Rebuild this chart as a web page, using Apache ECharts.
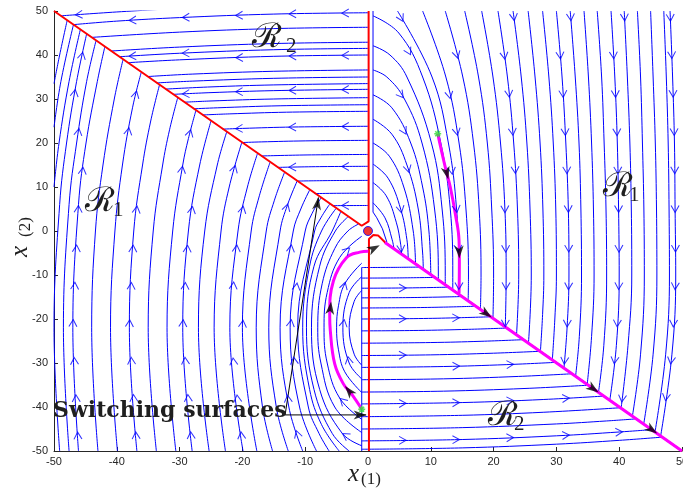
<!DOCTYPE html>
<html>
<head>
<meta charset="utf-8">
<script src="https://cdn.jsdelivr.net/npm/echarts/dist/echarts.min.js"></script>
<style>
  html, body { margin: 0; padding: 0; background: #ffffff; }
  #chart { width: 683px; height: 489px; }
</style>
</head>
<body>
<div id="chart"></div>
<script>
// Phase portrait of a switched planar system: streamlines of each mode,
// the two switching surfaces and two sample trajectories.

const axisTicks = [-50, -40, -30, -20, -10, 0, 10, 20, 30, 40, 50];

// Mode R2, upper-left wedge: flow runs left towards the switching line
const upperR2 = [
  [[-30, 50.62], [-40, 49.78], [-48.9, 48.9]],
  [[0, 49.6], [-15, 49.3], [-30, 48.5], [-40, 47.7], [-46.9, 46.9]],
  [[0, 46.3], [-15, 46.0], [-30, 45.2], [-44, 44]],
  [[0, 42.9], [-15, 42.6], [-30, 41.8], [-40.9, 40.9]],
  [[0, 41.5], [-15, 41.2], [-30, 40.4], [-39.6, 39.6]],
  [[0, 40.0], [-15, 39.7], [-30, 38.9], [-38.25, 38.25]],
  [[0, 36.6], [-15, 36.3], [-28, 35.66], [-35.1, 35.1]],
  [[0, 35.0], [-15, 34.7], [-28, 34.06], [-33.65, 33.65]],
  [[0, 33.5], [-15, 33.2], [-25, 32.75], [-32.25, 32.25]],
  [[0, 32.2], [-15, 31.9], [-25, 31.45], [-31.05, 31.05]],
  [[0, 30.3], [-15, 30.0], [-25, 29.55], [-29.27, 29.27]],
  [[0, 28.7], [-14, 28.46], [-24, 28.0], [-27.77, 27.77]],
  [[0, 27.2], [-13, 27.0], [-22, 26.62], [-26.37, 26.37]],
  [[0, 23.8], [-12, 23.63], [-20, 23.32], [-23.15, 23.15]],
  [[0, 20.6], [-10, 20.48], [-17, 20.25], [-20.1, 20.1]],
  [[0, 17.4], [-9, 17.3], [-14, 17.16], [-17.05, 17.05]],
  [[0, 14.7], [-7, 14.64], [-12, 14.53], [-14.45, 14.45]],
  [[0, 11.5], [-6, 11.46], [-11.35, 11.35]],
  [[0, 8.6], [-5, 8.57], [-8.5, 8.5]],
  [[0, 5.8], [-5.76, 5.76]]
];

// Mode R2, lower-right wedge: flow runs right towards the switching line
const lowerR2 = [
  [[-1, -49.6], [15, -49.29], [30, -48.45], [40, -47.58], [46.85, -46.85]],
  [[-1, -47.7], [15, -47.39], [30, -46.55], [40, -45.68], [45.15, -45.15]],
  [[-1, -45.0], [15, -44.69], [30, -43.85], [38, -43.17], [42.7, -42.7]],
  [[-1, -42.2], [15, -41.89], [28, -41.19], [40.17, -40.17]],
  [[-1, -39.3], [15, -38.99], [28, -38.29], [37.52, -37.52]],
  [[-1, -36.6], [12, -36.4], [25, -35.79], [35.05, -35.05]],
  [[-1, -33.8], [12, -33.6], [24, -33.05], [32.45, -32.45]],
  [[-1, -31.0], [12, -30.8], [22, -30.37], [29.86, -29.86]],
  [[-1, -28.3], [10, -28.15], [20, -27.77], [27.34, -27.34]],
  [[-1, -25.5], [10, -25.35], [18, -25.07], [24.7, -24.7]],
  [[-1, -22.7], [8, -22.6], [16, -22.35], [22.06, -22.06]],
  [[-1, -20.0], [8, -19.9], [14, -19.73], [19.5, -19.5]],
  [[-1, -17.5], [7, -17.42], [12, -17.3], [17.1, -17.1]],
  [[-1, -15.2], [6, -15.14], [11, -15.03], [14.9, -14.9]],
  [[-1, -13.0], [6, -12.94], [12.77, -12.77]],
  [[-1, -10.7], [5, -10.66], [10.54, -10.54]],
  [[-1, -8.3], [4, -8.27], [8.2, -8.2]]
];

// Mode R1, left half: flow turns clockwise and climbs to the switching line
const leftR1 = [
  [[-50, 33.5], [-49.1, 40], [-47.9, 47.9]],
  [[-50, 23.6], [-48.9, 34], [-46.9, 46.9]],
  [[-50, 10], [-49.2, 20], [-47.6, 34], [-45.8, 45.8]],
  [[-49.1, -50], [-50, -22], [-49.1, 6], [-48, 20], [-46.4, 34], [-44.8, 44.8]],
  [[-47.6, -50], [-48.5, -22], [-47.6, 6], [-46.4, 20], [-44.8, 34], [-43.3, 43.3]],
  [[-46.1, -50], [-47, -22], [-46.1, 6], [-44.9, 20], [-43.1, 34], [-41.9, 41.9]],
  [[-43, -50], [-44, -22], [-43.4, 0], [-42.2, 15], [-40.4, 30], [-39, 39]],
  [[-39.9, -50], [-41, -22], [-40.3, 0], [-39.1, 15], [-37.5, 28], [-36.1, 36.1]],
  [[-36.8, -50], [-38, -22], [-37.3, 0], [-35.9, 15], [-34.6, 25], [-33.2, 33.2]],
  [[-33.7, -50], [-35, -22], [-34.2, 0], [-32.7, 15], [-31.6, 23], [-30.3, 30.3]],
  [[-30.6, -50], [-32, -22], [-31.1, 0], [-29.5, 15], [-28.6, 21], [-27.4, 27.4]],
  [[-28, -50], [-29.5, -22], [-28.6, 0], [-26.8, 15], [-25, 25]],
  [[-25.3, -50], [-27, -22], [-26, 0], [-24, 15], [-22.5, 22.5]],
  [[-22.7, -50], [-24.5, -22], [-23.4, 0], [-22.1, 10], [-20.1, 20.1]],
  [[-19.9, -50], [-22, -22], [-20.7, 0], [-19.2, 10], [-17.6, 17.6]],
  [[-17.7, -50], [-20, -22], [-18.6, 0], [-17.3, 8], [-15.6, 15.6]],
  [[-15.2, -50], [-16.8, -40], [-17.8, -22], [-16.2, 0], [-14.9, 7], [-13.3, 13.3]],
  [[-12.7, -50], [-14.6, -40], [-15.8, -22], [-14, 0], [-12.8, 6], [-11.3, 11.3]],
  [[-10.4, -50], [-12.6, -40], [-14, -22], [-11.9, 0], [-10.7, 5], [-9.3, 9.3]],
  [[-8.2, -50], [-10.9, -40], [-12.4, -22], [-10, 0], [-8.9, 4], [-7.5, 7.5]],
  [[-6.2, -50], [-7.8, -46], [-9.5, -40], [-11.2, -22], [-8.5, 0], [-7.5, 3], [-6.1, 6.1]],
  [[-4.6, -50], [-7.4, -44], [-9.3, -36], [-10.4, -22], [-9.3, -8], [-7.4, 0], [-5.1, 5.1]],
  [[-3, -50], [-5.7, -46], [-8.6, -36], [-9.8, -22], [-8.6, -8], [-5.7, 0], [-4.35, 4.35]],
  [[-1, -48.8], [-4.1, -46], [-7.7, -36], [-9, -22], [-7.7, -8], [-5.2, 0], [-3.2, 3.2]],
  [[-1, -45.8], [-5.3, -40], [-7.5, -30], [-8, -22], [-7.3, -12], [-5.3, -4], [-3.2, 0], [-1.55, 1.55]],
  [[-1, -42.8], [-4.5, -38], [-6.5, -30], [-7, -22], [-6.5, -14], [-4.5, -6], [-1, -1.2]],
  [[-1, -36.7], [-3.7, -32], [-4.7, -27], [-5, -22], [-4.7, -17], [-3.7, -12], [-1, -7.3]],
  [[-1, -33.6], [-3, -30], [-4, -22], [-3, -14], [-1, -10.4]],
  [[-1, -30.5], [-2.2, -28], [-3, -22], [-2.2, -16], [-1, -13.5]]
];

// Mode R1, right half: flow turns clockwise and falls to the switching line
const rightR1 = [
  [[48.1, 50], [48.5, 35], [48.8, 20], [48.9, 5], [49, -10], [48.4, -28], [46.6, -46.6]],
  [[47.1, 50], [47.5, 35], [47.8, 20], [47.94, 5], [48, -10], [47.4, -28], [45.7, -45.7]],
  [[45, 50], [45.4, 35], [45.75, 20], [45.94, 5], [46, -10], [45.4, -28], [43.9, -43.9]],
  [[42.9, 50], [43.4, 35], [43.7, 20], [43.93, 5], [44, -10], [43.4, -28], [42.1, -42.1]],
  [[40.8, 50], [41.3, 35], [41.7, 20], [41.93, 5], [42, -10], [41.4, -26], [40.3, -40.3]],
  [[38.7, 50], [39.3, 35], [39.7, 20], [39.9, 5], [40, -10], [39.55, -26], [38.5, -38.5]],
  [[36.5, 50], [37.2, 35], [37.6, 20], [37.9, 5], [38, -10], [37.55, -26], [36.7, -36.7]],
  [[34.4, 50], [35.1, 35], [35.6, 20], [35.9, 5], [36, -10], [35.6, -24], [34.9, -34.9]],
  [[32.2, 50], [33, 35], [33.6, 20], [33.9, 5], [34, -10], [33.65, -24], [33.05, -33.05]],
  [[30, 50], [30.9, 35], [31.5, 20], [31.9, 5], [32, -10], [31.7, -22], [31.2, -31.2]],
  [[27.8, 50], [28.8, 35], [29.5, 20], [29.9, 5], [30, -10], [29.75, -20], [29.35, -29.35]],
  [[25.5, 50], [26.6, 35], [27.4, 20], [27.85, 5], [28, -10], [27.8, -19], [27.45, -27.45]],
  [[23.1, 50], [24.4, 35], [25.3, 20], [25.8, 5], [26, -10], [25.55, -25.55]],
  [[20.7, 50], [22.2, 35], [23.2, 20], [23.8, 5], [24, -10], [23.65, -23.65]],
  [[18.1, 50], [19.9, 35], [21.1, 20], [21.8, 5], [22, -10], [21.86, -21.86]],
  [[15.4, 50], [17.6, 35], [19, 20], [19.7, 5], [20, -10], [19.9, -19.9]],
  [[12.3, 50], [15.1, 35], [16.8, 20], [17.7, 5], [18, -10], [17.9, -17.9]],
  [[8.7, 50], [12.4, 35], [14.5, 20], [15.6, 5], [16, -10], [15.95, -15.95]],
  [[4.7, 50], [10.2, 35], [12.8, 20], [14.1, 5], [14.5, -10], [14.46, -14.46]],
  [[0.8, 48.9], [4.9, 45], [8.7, 35], [11.6, 20], [13.1, 5], [13.5, -10], [13.5, -13.5]],
  [[0.8, 42.1], [3.5, 40], [6.2, 35], [10.1, 20], [11.8, 5], [12.3, -10], [12.3, -12.3]],
  [[0.8, 36.6], [3, 35], [5.8, 30], [8.6, 20], [10.6, 5], [11.2, -10], [11.2, -11.2]],
  [[0.8, 30.95], [3.8, 28], [6.8, 20], [8.7, 10], [9.7, 0], [10, -10]],
  [[0.8, 25.4], [3.8, 22], [6.2, 15], [8, 5], [8.7, -5], [8.8, -8.8]],
  [[0.8, 20], [3.4, 17], [5.7, 10], [7.2, 0], [7.57, -7.57]],
  [[0.8, 15.2], [3.2, 12], [5.2, 5], [6.2, -2], [6.4, -6.4]],
  [[0.8, 11], [2.9, 8], [4.5, 2], [5.2, -3], [5.35, -5.35]],
  [[0.8, 6.4], [2.7, 3], [3.85, -2], [4.15, -4.15]]
];

// Sliding segments that run along the switching surfaces
const slideLines = [
  [[-1, -50], [-1, -8.3]],
  [[0.8, 50], [0.8, 4.3], [1.4, 3.0], [2.3, 0.5], [3.0, -2.5]]
];

// Switching surfaces
const switchUpper = [[-50, 50], [-1.0, 1.2], [0.1, 2.2], [0.1, 50]];
const switchLower = [[0.15, -50], [0.15, -1.8], [0.85, -0.9], [1.6, -1.0], [2.7, -2.55], [50, -50]];

// Sample trajectories
const trajRight = [[11.1, 22.1], [12.3, 14.5], [13.1, 10.0], [13.9, 3.9], [14.5, -2.2], [14.55, -7.4], [14.5, -14.2]];
const trajLeft = [[-1.0, -40.5], [-2.6, -37.1], [-3.9, -34.8], [-5.3, -30.2], [-6.0, -22.7], [-6.1, -18.9],
                  [-5.5, -11.3], [-3.4, -6.0], [-1.3, -4.8], [0.05, -4.6]];
const trajSlide = [[2.7, -2.6], [50, -50]];
const trajJump = [[0.05, -4.6], [2.7, -2.6]];
const trajStarts = [[11.1, 22.1], [-1.0, -40.5]];
const equilibrium = [[0, 0]];
const trajArrowAt = [[12.7, 13.2], [14.3, -4.8], [18.9, -18.7], [36.1, -35.4], [45.4, -44.8],
                     [-6.05, -17.5], [-3.4, -36.8], [1.1, -4.3]];

// Arrow placement lattice for the streamlines
const arrowCols = [-46, -37.5, -29, -20.5, -12, -3.6, 5.5, 14, 22.6, 31.5, 40, 48.6];
const arrowRows = [48.5, 40, 31.2, 22.5, 13.8, 5, -4, -12.5, -21, -29.5, -38, -46.5];

// Annotation pointer
const noteFrom = [-13.2, -41.8];
const noteTo = [[-0.3, -41.8], [-7.9, 7.6]];

// ---- drawing ----
const GRID = { left: 54, right: 1, top: 11, bottom: 38 };
const W = 683, H = 489;
const SX = (W - GRID.left - GRID.right) / (axisTicks[axisTicks.length - 1] - axisTicks[0]);
const SY = (H - GRID.top - GRID.bottom) / (axisTicks[axisTicks.length - 1] - axisTicks[0]);

const BLUE = '#0000ff', RED = '#ff0000', MAGENTA = '#ff00ff';

function nearestOnPaths(p, paths) {
  let best = null;
  const px = p[0] * SX, py = p[1] * SY;
  for (const path of paths) {
    for (let i = 0; i < path.length - 1; i++) {
      const ax = path[i][0] * SX, ay = path[i][1] * SY;
      const bx = path[i + 1][0] * SX, by = path[i + 1][1] * SY;
      const dx = bx - ax, dy = by - ay, L2 = dx * dx + dy * dy;
      if (!L2) continue;
      let t = ((px - ax) * dx + (py - ay) * dy) / L2;
      t = Math.max(0, Math.min(1, t));
      const qx = ax + t * dx, qy = ay + t * dy;
      const d = Math.hypot(px - qx, py - qy);
      if (!best || d < best.d) {
        best = { d: d, x: qx / SX, y: qy / SY, ang: Math.atan2(dy, dx) * 180 / Math.PI };
      }
    }
  }
  return best;
}

const series = [];
function addLine(data, color, width, z, smooth) {
  series.push({
    type: 'line', data: data, smooth: smooth, showSymbol: false, silent: true, z: z,
    lineStyle: { color: color, width: width }, animation: false
  });
}

const streamLines = [].concat(upperR2, lowerR2, leftR1, rightR1);
streamLines.forEach(l => addLine(l, BLUE, 1, 2, 0.4));
slideLines.forEach(l => addLine(l, BLUE, 1, 2, false));

addLine(switchUpper, RED, 2, 3, false);
addLine(switchLower, RED, 2, 3, false);

addLine(trajRight, MAGENTA, 3, 4, 0.4);
addLine(trajLeft, MAGENTA, 3, 4, 0.4);
addLine(trajSlide, MAGENTA, 3, 4, false);

// annotation lines
noteTo.forEach(t => addLine([noteFrom, t], '#000000', 1, 5, false));

// blue streamline arrows
const blueArrows = [];
arrowCols.forEach(cx => arrowRows.forEach(cy => {
  const hit = nearestOnPaths([cx, cy], streamLines);
  if (hit && hit.d < 8) blueArrows.push({ value: [hit.x, hit.y], symbolRotate: hit.ang - 90 });
}));
series.push({
  type: 'scatter', data: blueArrows, silent: true, z: 6, animation: false,
  symbol: 'path://M0,7 L4,0 L8,7', symbolSize: [8, 7],
  itemStyle: { color: 'rgba(0,0,0,0)', borderColor: BLUE, borderWidth: 1 }
});

// black arrowheads along the trajectories
const HEAD = 'path://M5,0 L10,13 L5,9.5 L0,13 Z';
const trajArrows = trajArrowAt.map(p => {
  const hit = nearestOnPaths(p, [trajRight, trajSlide, trajLeft, trajJump]);
  return { value: [hit.x, hit.y], symbolRotate: hit.ang - 90 };
});
// pointer heads: tip placed on the end of each annotation line
noteTo.forEach(t => {
  const dx = (t[0] - noteFrom[0]) * SX, dy = (t[1] - noteFrom[1]) * SY;
  const L = Math.hypot(dx, dy), back = 6;
  trajArrows.push({
    value: [t[0] - dx / L * back / SX, t[1] - dy / L * back / SY],
    symbolRotate: Math.atan2(dy, dx) * 180 / Math.PI - 90
  });
});
series.push({
  type: 'scatter', data: trajArrows, silent: true, z: 7, animation: false,
  symbol: HEAD, symbolSize: [9, 13], itemStyle: { color: '#000000' }
});

// starting points and equilibrium
series.push({
  type: 'scatter', data: trajStarts, silent: true, z: 8, animation: false,
  symbol: 'path://M5,0 L5,10 M0,5 L10,5 M1.5,1.5 L8.5,8.5 M8.5,1.5 L1.5,8.5', symbolSize: 7,
  itemStyle: { color: 'rgba(0,0,0,0)', borderColor: '#33dd33', borderWidth: 1.5 }
});
series.push({
  type: 'scatter', data: equilibrium, silent: true, z: 8, animation: false,
  symbol: 'circle', symbolSize: 9,
  itemStyle: { color: '#ee0000', borderColor: '#0000ff', borderWidth: 1 }
});

const axisCommon = {
  type: 'value',
  min: axisTicks[0], max: axisTicks[axisTicks.length - 1],
  interval: axisTicks[1] - axisTicks[0],
  splitLine: { show: false },
  axisLine: { show: true, onZero: false, lineStyle: { color: '#262626', width: 1 } },
  axisTick: { show: true, inside: true, length: 4, lineStyle: { color: '#262626' } },
  axisLabel: { fontFamily: '"Liberation Sans", Arial, sans-serif', fontSize: 11, color: '#262626' }
};

const serif = '"DejaVu Serif", "Liberation Serif", serif';
const textColor = '#1f1f1f';
function label(x, y, text, font, extra) {
  return Object.assign({
    type: 'text', x: x, y: y, z: 100, silent: true,
    style: { text: text, font: font, fill: textColor, align: 'left', verticalAlign: 'middle' }
  }, extra || {});
}

const graphic = [
  label(53, 411, 'Switching surfaces', 'bold 22px ' + serif),
  label(252, 38, 'ℛ', '34px ' + serif), label(286, 46, '2', '21px "Liberation Serif", serif'),
  label(85, 202, 'ℛ', '34px ' + serif), label(113, 210, '1', '21px "Liberation Serif", serif'),
  label(603, 187, 'ℛ', '34px ' + serif), label(629, 195, '1', '21px "Liberation Serif", serif'),
  label(488, 416, 'ℛ', '34px ' + serif), label(514, 424, '2', '21px "Liberation Serif", serif'),
  label(348, 474, 'x', 'italic 25px "Liberation Serif", serif'),
  label(361, 480, '(1)', '17px "Liberation Serif", serif'),
  label(20, 257, 'x', 'italic 25px "Liberation Serif", serif', { rotation: Math.PI / 2 }),
  label(26, 237, '(2)', '17px "Liberation Serif", serif', { rotation: Math.PI / 2 })
];

const chart = echarts.init(document.getElementById('chart'), null, { renderer: 'canvas' });
chart.setOption({
  animation: false,
  backgroundColor: '#ffffff',
  grid: Object.assign({ containLabel: false, outerBoundsMode: 'none' }, GRID),
  xAxis: Object.assign({}, axisCommon, { axisLabel: Object.assign({}, axisCommon.axisLabel, { margin: 5 }) }),
  yAxis: Object.assign({}, axisCommon, { axisLabel: Object.assign({}, axisCommon.axisLabel, { margin: 6 }) }),
  series: series,
  graphic: graphic
});
</script>
</body>
</html>
